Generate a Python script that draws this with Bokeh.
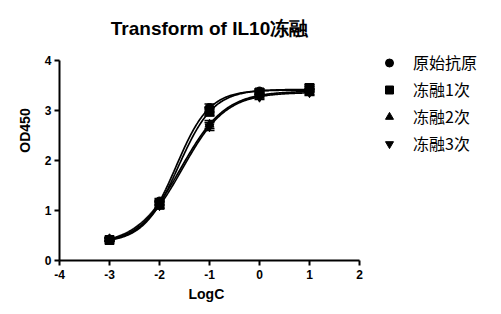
import numpy as np
from bokeh.plotting import figure
from bokeh.models import Range1d, Whisker, TeeHead, ColumnDataSource, Legend, LegendItem, FixedTicker, Label, Title
from bokeh.embed import file_html
from bokeh.resources import INLINE

# ---- data ----
logc = [-3, -2, -1, 0, 1]
series_names = ["原始抗原", "冻融1次", "冻融2次", "冻融3次"]
od_raw = [0.42, 1.18, 3.05, 3.38, 3.42]
od_ft1 = [0.41, 1.12, 2.98, 3.36, 3.45]
od_ft2 = [0.43, 1.16, 2.72, 3.30, 3.38]
od_ft3 = [0.42, 1.10, 2.68, 3.27, 3.36]
err_raw = [0.03, 0.06, 0.08, 0.05, 0.06]
err_ft1 = [0.03, 0.07, 0.09, 0.05, 0.07]
err_ft2 = [0.03, 0.06, 0.08, 0.05, 0.06]
err_ft3 = [0.03, 0.07, 0.08, 0.05, 0.06]
x_ticks = [-4, -3, -2, -1, 0, 1, 2]
x_tick_labels = ["-4", "-3", "-2", "-1", "0", "1", "2"]
y_ticks = [0, 1, 2, 3, 4]

values = [od_raw, od_ft1, od_ft2, od_ft3]
errors = [err_raw, err_ft1, err_ft2, err_ft3]
markers = ["circle", "square", "triangle", "inverted_triangle"]


def fit_4pl(x, y):
    x = np.asarray(x, float)
    y = np.asarray(y, float)
    cs = np.arange(-3.0, 0.5, 0.005)
    hs = np.arange(0.3, 3.0, 0.01)
    C, H = np.meshgrid(cs, hs, indexing="ij")
    s = 1.0 / (1.0 + 10 ** ((C[..., None] - x) * H[..., None]))
    u = 1 - s
    A = (u * u).sum(-1)
    B = (u * s).sum(-1)
    Cc = (s * s).sum(-1)
    r1 = (u * y).sum(-1)
    r2 = (s * y).sum(-1)
    det = A * Cc - B * B
    bot = (Cc * r1 - B * r2) / det
    top = (A * r2 - B * r1) / det
    sse = ((y - bot[..., None] * u - top[..., None] * s) ** 2).sum(-1)
    i, j = np.unravel_index(np.nanargmin(sse), sse.shape)
    return bot[i, j], top[i, j], cs[i], hs[j]


W, H = 493, 306
LEFT, BOTTOM = 59, 46
PX = 50.0  # pixels per data unit
x_hi = -4 + (W - LEFT) / PX
y_hi = (H - BOTTOM) / PX
p = figure(width=W, height=H, output_backend="svg", toolbar_location=None,
           x_range=Range1d(-4, x_hi), y_range=Range1d(0, y_hi),
           min_border=0, min_border_left=LEFT, min_border_right=0, min_border_top=0,
           min_border_bottom=BOTTOM)
p.outline_line_color = None
p.grid.visible = False
p.background_fill_color = "white"

font = "Liberation Sans"
for ax in (p.xaxis[0], p.yaxis[0]):
    ax.axis_line_width = 2
    ax.axis_line_color = "black"
    ax.major_tick_line_width = 2
    ax.major_tick_in = 0
    ax.major_tick_out = 5
    ax.minor_tick_line_color = None
    ax.major_label_text_font = font
    ax.major_label_text_font_style = "bold"
    ax.major_label_text_font_size = "12px"
    ax.major_label_text_color = "black"
    ax.axis_label_text_font = font
    ax.axis_label_text_font_style = "bold"
    ax.axis_label_text_font_size = "14px"
    ax.axis_label_text_color = "black"
p.xaxis.ticker = FixedTicker(ticks=x_ticks)
p.xaxis.major_label_overrides = {t: s for t, s in zip(x_ticks, x_tick_labels)}
p.yaxis.ticker = FixedTicker(ticks=y_ticks)
p.xaxis.bounds = (x_ticks[0], x_ticks[-1])
p.yaxis.bounds = (y_ticks[0], y_ticks[-1])
p.yaxis.axis_label = "OD450"
p.xaxis.major_label_standoff = 4
p.yaxis.major_label_standoff = 3
p.yaxis.axis_label_standoff = 9

xlabel = Title(text="LogC", align="left", offset=129, standoff=4, text_font=font,
               text_font_style="bold", text_font_size="14px", text_color="black")
p.add_layout(xlabel, "below")

items = []
for name, ys, es, m in zip(series_names, values, errors, markers):
    b, t, c, h = fit_4pl(logc, ys)
    xx = np.linspace(logc[0], logc[-1], 200)
    yy = b + (t - b) / (1 + 10 ** ((c - xx) * h))
    p.line(xx, yy, line_color="black", line_width=1.7)
    src = ColumnDataSource(dict(x=logc, y=ys,
                                lo=[v - e for v, e in zip(ys, es)],
                                hi=[v + e for v, e in zip(ys, es)]))
    wk = Whisker(source=src, base="x", lower="lo", upper="hi", line_color="black", line_width=1.5,
                 upper_head=TeeHead(size=10, line_color="black", line_width=1.5),
                 lower_head=TeeHead(size=10, line_color="black", line_width=1.5))
    p.add_layout(wk)
    r = p.scatter("x", "y", source=src, marker=m, size=9, fill_color="black", line_color="black")
    items.append(LegendItem(label=name, renderers=[r]))

leg = Legend(items=items, location=(320, 105), orientation="vertical",
             padding=0, margin=0, spacing=3, glyph_width=20, glyph_height=21, label_height=21,
             label_standoff=14, border_line_color=None, background_fill_alpha=0,
             label_text_font="Noto Sans CJK SC", label_text_font_size="16px", label_text_color="black")
p.add_layout(leg)

title = Label(x=-1, y=(H - BOTTOM - 28) / PX, text="Transform of IL10冻融", text_align="center",
              text_baseline="middle", text_font=font, text_font_style="bold",
              text_font_size="19px", text_color="black")
p.add_layout(title)

open("out.html", "w").write(file_html(p, INLINE))
